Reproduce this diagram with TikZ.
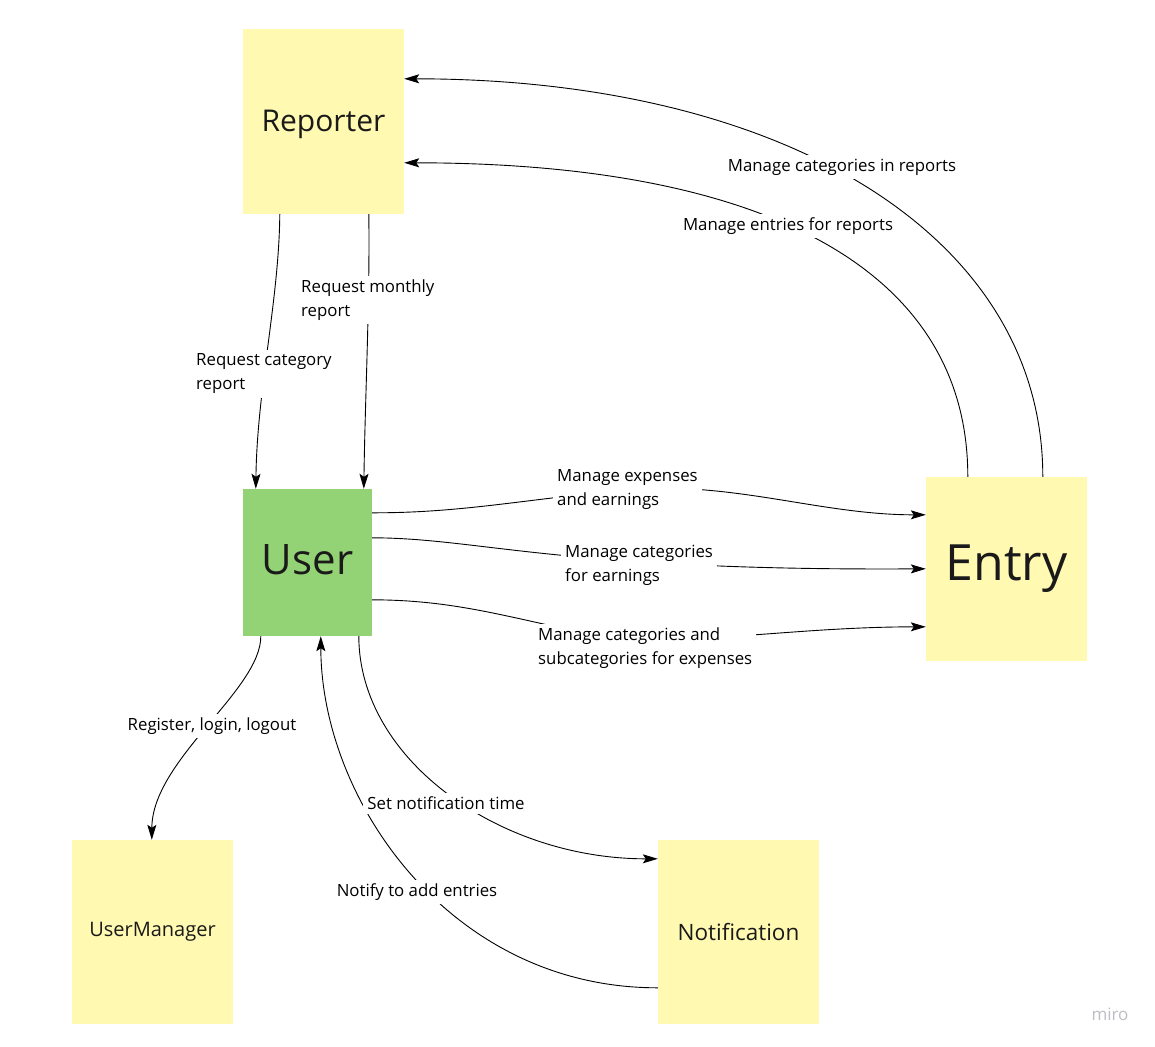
\documentclass[tikz,border=0pt]{standalone}
\usepackage{fontspec}
\setmainfont{Open Sans}
\usetikzlibrary{arrows.meta}
\definecolor{stickyY}{HTML}{FFF9B1}
\definecolor{stickyG}{HTML}{93D275}
\definecolor{inkc}{HTML}{1A1A1A}
\definecolor{miroG}{HTML}{BDBDC4}
\tikzset{
  box/.style={draw=none, fill=stickyY, inner sep=0pt, text=inkc, align=center},
  ubox/.style={box, fill=stickyG},
  conn/.style={draw=black, line width=0.9pt, -{Stealth[length=15pt,width=9pt,inset=3pt]}},
  lbl/.style={fill=white, text=black, inner sep=4pt, font=\fontsize{16.8}{24}\selectfont},
  lbll/.style={lbl, align=left, anchor=west},
}
\begin{document}
\begin{tikzpicture}[x=1pt,y=-1pt]
\useasboundingbox (0,0) rectangle (1155,1046);
% boxes
\node[box, minimum width=161pt, minimum height=185pt, font=\fontsize{30}{36}\selectfont] (rep) at (323.5,121.5) {\raisebox{-3pt}[\height][\depth]{Reporter}};
\node[ubox, minimum width=129pt, minimum height=147pt, font=\fontsize{42}{50}\selectfont] (usr) at (307.5,562.5) {\raisebox{3pt}[\height][\depth]{User}};
\node[box, minimum width=161pt, minimum height=184pt, font=\fontsize{50}{60}\selectfont] (ent) at (1006.5,569) {Entry};
\node[box, minimum width=161pt, minimum height=184pt, font=\fontsize{20}{24}\selectfont] (um) at (152.5,932) {UserManager};
\node[box, minimum width=161pt, minimum height=184pt, font=\fontsize{22.5}{27}\selectfont] (nt) at (738.5,932) {Notification};

% connectors
\draw[conn] ([xshift=117pt]ent.north west) .. controls (1043,238) and (788,79) .. ([yshift=-50pt]rep.north east);
\draw[conn] ([xshift=42pt]ent.north west) .. controls (968,273) and (771,163) .. ([yshift=-134pt]rep.north east);
\draw[conn] ([xshift=37pt]rep.south west) .. controls (279,300) and (257,390) .. ([xshift=13pt]usr.north west);
\draw[conn] ([xshift=126pt]rep.south west) .. controls (370,300) and (365,400) .. ([xshift=121pt]usr.north west);
\draw[conn] ([yshift=-24pt]usr.north east) .. controls (460,513) and (520,500) .. (625,490) .. controls (730,480) and (820,515) .. ([yshift=-38pt]ent.north west);
\draw[conn] ([yshift=-49pt]usr.north east) .. controls (480,538) and (560,571) .. ([yshift=-92pt]ent.north west);
\draw[conn] ([yshift=-111pt]usr.north east) .. controls (450,600) and (500,615) .. (580,632) .. controls (680,650) and (780,627) .. ([yshift=-150pt]ent.north west);
\draw[conn] ([xshift=18pt]usr.south west) .. controls (261,690) and (152,760) .. ([xshift=80pt]um.north west);
\draw[conn] ([xshift=116pt]usr.south west) .. controls (359,760) and (500,859) .. ([yshift=-19pt]nt.north west);
\draw[conn] ([yshift=-148pt]nt.north west) .. controls (450,988) and (321,800) .. ([xshift=78pt]usr.south west);

% labels
\node[lbl] (l1) at (842,167) {Manage categories in reports};
\node[lbl] (l2) at (788,226) {Manage entries for reports};
\node[lbll] (l3) at (297,300) {Request monthly\\report};
\node[lbll] (l4) at (192,374) {Request category\\report};
\node[lbll] (l5) at (553,490) {Manage expenses\\and earnings};
\node[lbll] (l6) at (561,565) {Manage categories\\for earnings};
\node[lbll] (l7) at (534,648) {Manage categories and\\subcategories for expenses};
\node[lbl] (l8) at (212,726) {Register, login, logout};
\node[lbl] (l9) at (446,803) {Set notification time};
\node[lbl] (l10) at (417,892) {Notify to add entries};

\node[text=miroG, font=\fontsize{17}{20}\selectfont, inner sep=0pt] (wm) at (1110,1014) {miro};
\end{tikzpicture}
\end{document}
